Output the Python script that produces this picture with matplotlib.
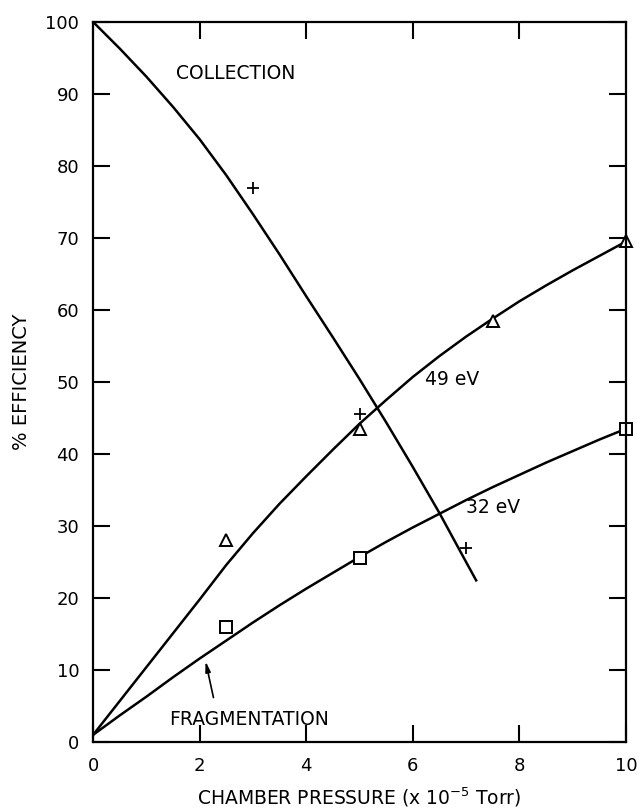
import matplotlib
matplotlib.use("Agg")
import matplotlib.pyplot as plt

# ---- data ----
coll_x = [0, 0.5, 1, 1.5, 2, 2.5, 3, 3.5, 4, 4.5, 5, 5.5, 6, 6.5, 7, 7.2]
coll_y = [100, 96.3, 92.4, 88.2, 83.7, 78.7, 73.3, 67.7, 61.9, 56.2, 50.4,
          44.4, 38.2, 31.8, 25.0, 22.3]
coll_pts_x = [3, 5, 7]
coll_pts_y = [77, 45.5, 27]

ev49_x = [0, 0.5, 1, 1.5, 2, 2.5, 3, 3.5, 4, 4.5, 5, 5.5, 6, 6.5, 7, 7.5,
          8, 8.5, 9, 9.5, 10]
ev49_y = [1, 5.7, 10.4, 15.1, 19.8, 24.6, 29.0, 33.1, 36.9, 40.6, 44.2, 47.5,
          50.7, 53.6, 56.3, 58.8, 61.2, 63.4, 65.5, 67.5, 69.5]
ev49_pts_x = [2.5, 5, 7.5, 10]
ev49_pts_y = [28, 43.5, 58.5, 69.6]

ev32_x = [0, 0.5, 1, 1.5, 2, 2.5, 3, 3.5, 4, 4.5, 5, 5.5, 6, 6.5, 7, 7.5,
          8, 8.5, 9, 9.5, 10]
ev32_y = [1, 3.7, 6.3, 9.0, 11.6, 14.1, 16.6, 19.0, 21.3, 23.5, 25.7, 27.8,
          29.8, 31.7, 33.6, 35.4, 37.1, 38.8, 40.4, 42.0, 43.5]
ev32_pts_x = [2.5, 5, 10]
ev32_pts_y = [16, 25.5, 43.5]

x_ticks = [0, 2, 4, 6, 8, 10]
y_ticks = [0, 10, 20, 30, 40, 50, 60, 70, 80, 90, 100]

plt.rcParams['font.family'] = ['DejaVu Sans']

fig = plt.figure(figsize=(6.42, 8.11), dpi=100)
ax = fig.add_axes([0.145, 0.085, 0.83, 0.888])

lw = 1.8
ax.plot(coll_x, coll_y, color='black', lw=lw, solid_capstyle='butt',
        solid_joinstyle='round')
ax.plot(ev49_x, ev49_y, color='black', lw=lw, solid_joinstyle='round')
ax.plot(ev32_x, ev32_y, color='black', lw=lw, solid_joinstyle='round')

ax.plot(coll_pts_x, coll_pts_y, linestyle='none', marker='+', ms=8,
        mew=1.3, color='black')
ax.plot(ev49_pts_x, ev49_pts_y, linestyle='none', marker='^', ms=9,
        mew=1.4, mfc='white', mec='black', clip_on=False)
ax.plot(ev32_pts_x, ev32_pts_y, linestyle='none', marker='s', ms=8,
        mew=1.4, mfc='white', mec='black', clip_on=False)

fs = 13.5
ax.text(1.55, 92.9, 'COLLECTION', fontsize=fs, va='center', ha='left')
ax.text(6.23, 50.4, '49 eV', fontsize=fs, va='center', ha='left')
ax.text(7.0, 32.6, '32 eV', fontsize=fs, va='center', ha='left')
ax.text(1.43, 3.2, 'FRAGMENTATION', fontsize=fs, va='center', ha='left')
ax.annotate('', xy=(2.1, 11.6), xytext=(2.27, 5.8),
            arrowprops=dict(arrowstyle='-|>,head_length=0.6,head_width=0.15',
                            color='black', lw=1.2))

ax.set_xlim(0, 10)
ax.set_ylim(0, 100)
ax.set_xticks(x_ticks)
ax.set_yticks(y_ticks)
ax.tick_params(direction='in', length=12, width=1.5, top=True, right=True,
               labelsize=13)
ax.tick_params(axis='y', pad=10)
ax.tick_params(axis='x', pad=11)
for s in ax.spines.values():
    s.set_linewidth(1.6)

ax.set_xlabel(r'CHAMBER PRESSURE (x 10$^{-5}$ Torr)', fontsize=13.5,
              labelpad=7)
ax.set_ylabel('% EFFICIENCY', fontsize=14, labelpad=10)

fig.savefig('out.png', dpi=100)
